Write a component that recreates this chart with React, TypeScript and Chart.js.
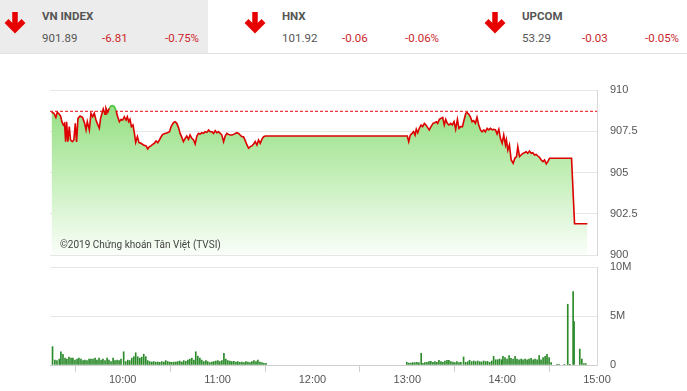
import React, { useEffect, useRef } from "react";
import { Chart, registerables } from "chart.js";

Chart.register(...registerables);

// ---- data ----
const REF_PRICE = 908.7;
const SESSION_START = 14; // minutes after 09:00
const SESSION_END = 360;
const timeTicks = [60, 120, 180, 240, 300, 360];
const timeTickLabels = ["10:00", "11:00", "12:00", "13:00", "14:00", "15:00"];
const priceTicks = [900, 902.5, 905, 907.5, 910];
const volumeTicks = [0, 5, 10];
const volumeTickLabels = ["0", "5M", "10M"];

const priceTimes = [
  15.0, 16.5, 17.7, 18.6, 19.9, 20.7, 21.5, 22.4, 23.2, 23.9, 24.5, 25.3, 26.2, 27.0, 28.1, 29.1, 30.0, 30.8,
  31.7, 33.0, 34.6, 35.9, 36.8, 37.6, 38.9, 39.9, 41.0, 42.0, 43.1, 43.9, 45.2, 46.0, 46.9, 47.7, 48.8, 49.4,
  50.5, 51.5, 52.6, 53.6, 54.7, 55.8, 56.8, 57.9, 58.9, 60.0, 61.0, 62.1, 62.9, 63.8, 64.6, 65.5, 66.5, 67.4,
  68.2, 69.3, 70.3, 71.6, 73.1, 74.8, 75.8, 76.9, 77.9, 79.0, 80.0, 81.1, 82.2, 83.2, 84.3, 85.3, 86.8, 88.3,
  89.6, 90.6, 92.1, 93.1, 94.2, 95.3, 96.3, 97.4, 98.4, 99.5, 100.5, 101.6, 102.6, 103.7, 104.8, 105.8, 106.9,
  107.9, 109.0, 110.0, 111.1, 112.1, 113.2, 114.3, 115.3, 116.4, 117.4, 118.5, 119.5, 120.6, 121.7, 122.7,
  123.8, 124.8, 125.9, 126.9, 128.0, 129.0, 130.1, 131.2, 132.2, 133.3, 134.3, 135.4, 136.4, 137.5, 138.6,
  139.6, 140.7, 141.7, 142.8, 143.8, 144.9, 145.9, 147.0, 148.0, 149.1, 150.2, 240.0,
  240.9, 241.9, 243.0, 244.0, 244.9, 245.7, 246.6, 247.6, 248.7, 249.7, 250.8, 251.8, 252.9, 253.9, 255.0,
  256.3, 257.3, 258.4, 259.2, 260.3, 261.3, 262.4, 263.4, 264.3, 265.3, 266.4, 267.5, 268.5, 269.6, 270.6,
  271.7, 272.7, 273.8, 274.9, 275.9, 277.0, 277.8, 278.9, 279.9, 281.0, 282.0, 283.1, 284.1, 285.2, 286.3,
  287.3, 288.4, 289.4, 290.5, 291.5, 292.6, 293.7, 294.7, 295.8, 296.8, 297.9, 298.9, 300.0, 301.0, 302.1,
  302.7, 303.6, 304.6, 305.7, 307.0, 308.0, 309.1, 309.9, 311.0, 312.0, 313.1, 314.1, 315.2, 316.2, 317.3,
  318.4, 319.4, 320.5, 321.5, 322.6, 323.6, 324.7, 325.8, 326.8, 327.9, 328.9, 330.0, 343.9, 345.8, 353.9,
];

const prices = [
  908.65, 908.59, 908.34, 908.65, 908.53, 908.42, 908.08, 907.88, 907.98, 906.87, 908.08, 906.87, 907.78, 906.97,
  906.87, 906.97, 907.98, 906.85, 908.28, 908.42, 908.34, 907.98, 907.58, 908.08, 907.58, 908.59, 908.38, 908.59,
  908.18, 907.98, 907.68, 908.28, 908.59, 908.85, 908.53, 908.9, 908.65, 908.89, 909.03, 909.05, 908.99, 908.75,
  908.38, 908.08, 908.22, 908.18, 908.38, 908.18, 908.38, 908.08, 908.22, 907.78, 907.88, 907.37, 906.83, 907.17,
  906.81, 906.77, 906.67, 906.61, 906.42, 906.57, 906.61, 906.71, 906.77, 906.91, 906.81, 906.97, 907.17, 907.31,
  907.37, 907.41, 907.47, 907.78, 908.02, 908.08, 907.98, 907.72, 907.37, 907.13, 906.87, 907.07, 907.21, 907.01,
  907.27, 907.07, 906.97, 906.73, 907.21, 907.37, 907.33, 907.41, 907.37, 907.47, 907.43, 907.58, 907.47, 907.47,
  907.37, 907.54, 907.41, 907.47, 907.37, 907.27, 906.87, 907.21, 907.37, 907.31, 907.27, 907.27, 907.31, 907.37,
  907.41, 907.37, 907.27, 907.17, 907.17, 906.93, 906.67, 906.47, 906.57, 906.61, 906.73, 906.87, 906.67, 906.97,
  906.77, 907.01, 907.17, 907.21, 907.21,
  906.87, 907.27, 907.37, 907.47, 907.27, 907.62, 907.41, 907.68, 907.88, 907.78, 907.98, 907.88, 907.72, 907.58,
  907.78, 907.98, 908.02, 908.08, 907.98, 908.22, 908.28, 908.34, 907.88, 908.22, 907.98, 907.88, 907.98, 907.88,
  908.08, 907.62, 908.22, 907.68, 907.78, 907.78, 908.18, 908.59, 908.63, 908.53, 908.38, 908.08, 908.14, 907.98,
  908.34, 907.88, 907.58, 907.47, 907.58, 907.47, 907.68, 907.58, 907.68, 907.58, 907.62, 907.58, 907.33, 907.62,
  907.07, 906.77, 907.27, 906.67, 906.97, 906.36, 906.67, 905.76, 905.56, 905.86, 905.96, 906.57, 905.96, 906.06,
  906.16, 906.2, 906.26, 906.16, 906.3, 906.16, 906.2, 906.06, 906.1, 906.0, 905.92, 905.76, 905.66, 905.76,
  905.52, 905.66, 905.86, 905.86, 901.89, 901.89,
];

const volumeTimes = [
  15.6, 17.1, 18.4, 19.9, 20.9, 22.2, 23.5, 24.7, 26.0, 27.3, 28.5, 29.8, 31.1, 32.3, 33.6, 34.9, 36.1, 37.4,
  38.7, 39.9, 41.2, 42.5, 43.7, 45.0, 46.3, 47.5, 48.8, 50.1, 51.3, 52.6, 53.9, 55.1, 56.4, 57.7, 58.9, 60.6,
  61.9, 63.2, 64.4, 65.7, 67.0, 68.2, 69.5, 70.8, 72.0, 73.3, 74.6, 75.8, 77.1, 78.4, 79.6, 80.9, 82.2, 83.4,
  84.7, 86.0, 87.2, 88.5, 89.8, 91.0, 92.3, 93.6, 94.8, 96.1, 97.4, 98.6, 99.9, 101.2, 102.4, 103.7, 105.0,
  106.2, 107.5, 108.8, 110.0, 111.3, 112.6, 113.8, 115.1, 116.4, 117.6, 118.9, 120.2, 121.4, 122.7, 124.0,
  125.2, 126.5, 127.8, 129.0, 130.3, 131.6, 132.8, 134.1, 135.4, 136.7, 137.9, 139.2, 140.5, 141.7, 143.0,
  144.3, 145.5, 146.8, 148.1, 149.3, 150.6,
  239.7, 241.0, 242.3, 243.5, 244.8, 246.1, 247.3, 248.8, 249.9, 251.1, 252.4, 253.7, 254.9, 256.2, 257.5,
  258.7, 260.0, 261.3, 262.5, 263.8, 265.1, 266.3, 267.6, 268.9, 270.1, 271.4, 272.7, 273.9, 275.6, 276.9,
  278.2, 279.4, 280.7, 282.0, 283.2, 284.5, 285.8, 287.0, 288.3, 289.6, 290.8, 292.1, 293.4, 294.6, 295.9,
  297.2, 298.4, 299.7, 300.5, 301.8, 303.1, 304.4, 305.6, 306.9, 308.2, 309.4, 310.7, 312.0, 313.2, 314.5,
  315.8, 317.0, 318.3, 319.6, 320.8, 322.1, 323.4, 324.6, 325.9, 327.2, 328.4, 329.7, 331.0, 334.8, 336.0,
  339.4, 341.5, 342.8, 344.9, 345.5, 349.1, 350.4, 351.7, 352.9,
];

// millions of shares
const volumes = [
  1.87, 0.5, 0.45, 0.6, 1.35, 1.1, 0.7, 0.6, 0.8, 0.7, 0.7, 0.5, 0.6, 0.7, 0.6, 0.45, 0.5, 0.45,
  0.6, 0.6, 0.6, 0.7, 0.5, 0.7, 0.5, 0.6, 0.45, 0.7, 0.5, 0.35, 0.7, 0.45, 0.5, 0.45, 0.6, 1.35,
  0.35, 0.5, 0.45, 0.7, 0.85, 1.25, 0.85, 0.7, 0.8, 1.1, 0.85, 0.45, 0.35, 0.3, 0.35, 0.3, 0.3, 0.27,
  0.35, 0.3, 0.45, 0.35, 0.3, 0.27, 0.3, 0.3, 0.35, 0.4, 0.3, 0.45, 0.37, 0.5, 0.6, 0.7, 0.5,
  1.35, 0.9, 0.7, 0.5, 0.35, 0.45, 0.35, 0.25, 0.3, 0.35, 0.4, 0.45, 0.35, 0.45, 1.2,
  0.6, 0.45, 0.4, 0.35, 0.37, 0.3, 0.35, 0.27, 0.3, 0.25, 0.35, 0.3, 0.25, 0.35, 0.45,
  0.35, 0.5, 0.3, 0.25, 0.17, 0.17,
  0.27, 0.2, 0.2, 0.24, 0.24, 0.27, 0.24, 1.19, 0.17, 0.24, 0.27, 0.34, 0.37, 0.27, 0.34,
  0.27, 0.48, 0.34, 0.27, 0.41, 0.48, 0.48, 0.34, 0.31, 0.24, 0.34, 0.24, 0.27, 0.82, 0.27,
  0.34, 0.48, 0.34, 0.41, 0.34, 0.41, 0.34, 0.31, 0.41, 0.34, 0.37, 0.27, 0.41, 0.88, 0.54,
  0.54, 0.61, 0.54, 0.88, 0.75, 0.61, 0.95, 0.68, 0.61, 0.88, 0.61, 0.54, 0.61, 0.54, 0.61,
  0.54, 0.61, 0.68, 0.54, 0.61, 0.54, 0.95, 0.54, 0.75, 0.88, 1.09, 0.75, 0.24, 0.07, 0.07,
  0.07, 6.2, 0.07, 7.5, 4.42, 1.63, 0.61, 0.14, 0.14,
];

const indexNames = ["VN INDEX", "HNX", "UPCOM"];
const indexValues = ["901.89", "101.92", "53.29"];
const indexChanges = ["-6.81", "-0.06", "-0.03"];
const indexPercents = ["-0.75%", "-0.06%", "-0.05%"];

const WATERMARK = "©2019 Chứng khoán Tân Việt (TVSI)";

// ---- styles ----
const AXIS_FONT = { family: "Arial, 'Liberation Sans', sans-serif", size: 11 };
const AXIS_COLOR = "#555";
const GRID_COLOR = "#e6e6e6";
const BORDER_COLOR = "#d8d8d8";
const LINE_RED = "#dd0000";
const LINE_GREEN = "#52c241";
const REF_COLOR = "#ee3a40";
const HEADER_RED = "#cc1f2a";

function DownArrow({ left }: { left: number }) {
  return (
    <svg style={{ position: "absolute", left, top: 11 }} width={24} height={24} viewBox="0 0 24 24">
      <path d="M12 1 V19" stroke="#e60000" strokeWidth={5.5} fill="none" />
      <path d="M3.5 10 L12 18.5 L20.5 10" stroke="#e60000" strokeWidth={5.5} fill="none" strokeLinejoin="miter" />
    </svg>
  );
}

const noEdgePadding = (scale: any) => {
  scale.width = 90;
  scale.paddingTop = 0;
  scale.paddingBottom = 0;
};

// dashed reference (previous close) line, positioned through the y scale
const refLinePlugin = {
  id: "refLine",
  beforeDatasetsDraw(chart: any) {
    const { ctx, chartArea, scales } = chart;
    const y = scales.y.getPixelForValue(REF_PRICE);
    ctx.save();
    ctx.strokeStyle = REF_COLOR;
    ctx.lineWidth = 1.3;
    ctx.setLineDash([3, 2]);
    ctx.beginPath();
    ctx.moveTo(chartArea.left, y);
    ctx.lineTo(chartArea.right, y);
    ctx.stroke();
    ctx.restore();
  },
};

export default function App() {
  const priceRef = useRef<HTMLCanvasElement | null>(null);
  const volRef = useRef<HTMLCanvasElement | null>(null);

  useEffect(() => {
    const priceData = priceTimes.map((t, i) => ({ x: t, y: prices[i] }));
    const volData = volumeTimes.map((t, i) => ({ x: t, y: volumes[i] }));

    const priceChart = new Chart(priceRef.current as HTMLCanvasElement, {
      type: "line",
      data: {
        datasets: [
          {
            data: priceData,
            borderColor: LINE_RED,
            borderWidth: 1.6,
            pointRadius: 0,
            tension: 0,
            fill: false,
            segment: {
              borderColor: (ctx: any) =>
                ctx.p0.parsed.y > REF_PRICE && ctx.p1.parsed.y > REF_PRICE ? LINE_GREEN : LINE_RED,
            },
          },
          {
            data: priceData,
            borderWidth: 0,
            borderColor: "rgba(0,0,0,0)",
            pointRadius: 0,
            tension: 0,
            fill: "start",
            backgroundColor: (ctx: any) => {
              const chart = ctx.chart;
              const area = chart.chartArea;
              if (!area) return "rgba(150,225,130,0.8)";
              const g = chart.ctx.createLinearGradient(0, area.top, 0, area.bottom);
              g.addColorStop(0, "#8adb76");
              g.addColorStop(0.5, "#c2eeb6");
              g.addColorStop(1, "#fafef9");
              return g;
            },
          },
        ],
      },
      plugins: [refLinePlugin],
      options: {
        animation: false,
        responsive: false,
        maintainAspectRatio: false,
        layout: { padding: { left: 50, top: 10, bottom: 10, right: 0 } },
        plugins: { legend: { display: false }, tooltip: { enabled: false } },
        scales: {
          x: { type: "linear", min: SESSION_START, max: SESSION_END, display: false },
          y: {
            position: "right",
            min: 900,
            max: 910,
            afterBuildTicks: (scale: any) => {
              scale.ticks = priceTicks.map((v) => ({ value: v }));
            },
            afterFit: noEdgePadding,
            grid: { color: GRID_COLOR, drawTicks: false },
            border: { display: true, color: BORDER_COLOR },
            ticks: {
              padding: 13,
              color: AXIS_COLOR,
              font: AXIS_FONT,
              callback: (v: any) => String(v),
            },
          },
        },
      },
    });

    const volChart = new Chart(volRef.current as HTMLCanvasElement, {
      type: "bar",
      data: {
        datasets: [
          {
            data: volData,
            backgroundColor: "#2a8a2a",
            barThickness: 1,
          },
        ],
      },
      options: {
        animation: false,
        responsive: false,
        maintainAspectRatio: false,
        layout: { padding: { left: 50, top: 10, bottom: 0, right: 0 } },
        plugins: { legend: { display: false }, tooltip: { enabled: false } },
        scales: {
          x: {
            type: "linear",
            min: SESSION_START,
            max: SESSION_END,
            offset: false,
            afterBuildTicks: (scale: any) => {
              scale.ticks = timeTicks.map((v) => ({ value: v }));
            },
            afterFit: (scale: any) => {
              scale.height = 26;
              scale.paddingLeft = 0;
              scale.paddingRight = 0;
            },
            grid: { drawOnChartArea: false, drawTicks: true, tickLength: 7, color: "#cfcfcf" },
            border: { display: true, color: "#cfcfcf" },
            ticks: {
              padding: 1,
              maxRotation: 0,
              color: AXIS_COLOR,
              font: AXIS_FONT,
              callback: (v: any) => {
                const i = timeTicks.indexOf(Number(v));
                return i >= 0 ? timeTickLabels[i] : "";
              },
            },
          },
          y: {
            position: "right",
            min: 0,
            max: 10,
            afterBuildTicks: (scale: any) => {
              scale.ticks = volumeTicks.map((v) => ({ value: v }));
            },
            afterFit: noEdgePadding,
            grid: { color: GRID_COLOR, drawTicks: false },
            border: { display: true, color: BORDER_COLOR },
            ticks: {
              padding: 13,
              color: AXIS_COLOR,
              font: AXIS_FONT,
              callback: (v: any) => {
                const i = volumeTicks.indexOf(Number(v));
                return i >= 0 ? volumeTickLabels[i] : "";
              },
            },
          },
        },
      },
    });

    return () => {
      priceChart.destroy();
      volChart.destroy();
    };
  }, []);

  const groupLefts = [0, 240, 480];
  const fs = 11.5;

  return (
    <div
      style={{
        position: "absolute",
        left: 0,
        top: 0,
        width: 687,
        height: 391,
        background: "#fff",
        overflow: "hidden",
        fontFamily: "Roboto, 'Noto Sans', sans-serif",
      }}
    >
      <div style={{ position: "absolute", left: 0, top: 0, width: 208, height: 53, background: "#ececec" }} />
      <div style={{ position: "absolute", left: 0, top: 53, width: 687, height: 1, background: "#e2e2e2" }} />
      {indexNames.map((name, i) => {
        const gl = groupLefts[i];
        return (
          <React.Fragment key={name}>
            <DownArrow left={gl + 3} />
            <div
              style={{
                position: "absolute",
                left: gl + 42,
                top: 9,
                fontSize: fs,
                lineHeight: "14px",
                fontWeight: 700,
                color: "#555",
                whiteSpace: "nowrap",
              }}
            >
              {name}
            </div>
            <div style={{ position: "absolute", left: gl + 42, top: 31, fontSize: fs, lineHeight: "14px", color: "#555" }}>
              {indexValues[i]}
            </div>
            <div style={{ position: "absolute", left: gl + 102, top: 31, fontSize: fs, lineHeight: "14px", color: HEADER_RED }}>
              {indexChanges[i]}
            </div>
            <div style={{ position: "absolute", left: gl + 165, top: 31, fontSize: fs, lineHeight: "14px", color: HEADER_RED }}>
              {indexPercents[i]}
            </div>
          </React.Fragment>
        );
      })}
      <canvas
        ref={priceRef}
        width={687}
        height={185}
        style={{ position: "absolute", left: 0, top: 80, width: 687, height: 185 }}
      />
      <div
        style={{
          position: "absolute",
          left: 60,
          top: 239,
          fontSize: 10,
          lineHeight: "12px",
          color: "#444",
          whiteSpace: "nowrap",
        }}
      >
        {WATERMARK}
      </div>
      <canvas
        ref={volRef}
        width={687}
        height={134}
        style={{ position: "absolute", left: 0, top: 257, width: 687, height: 134 }}
      />
    </div>
  );
}
